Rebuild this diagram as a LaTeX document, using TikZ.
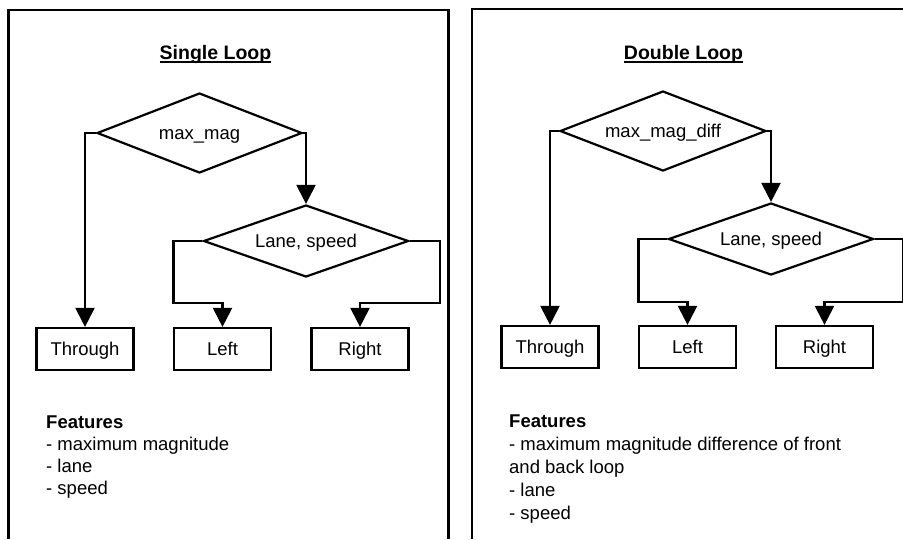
\documentclass[tikz,border=0pt]{standalone}
\usepackage{fontspec}
\setmainfont{Liberation Sans}
\usetikzlibrary{shapes.geometric,arrows.meta}

% underlined heading: the rule sits 3.5pt below the baseline
\newsavebox{\titlebox}
\newcommand{\paneltitle}[1]{\sbox{\titlebox}{#1}%
  \rlap{\rule[-3.5pt]{\wd\titlebox}{1.6pt}}\usebox{\titlebox}}

\tikzset{
  frame/.style={line width=2.2pt},
  labeltext/.style={font=\fontsize{18.5}{22}\selectfont, text height=13.2pt, text depth=0pt},
  decision/.style={diamond, draw, line width=2.2pt, inner sep=0pt,
    shape aspect=2.5, labeltext},
  outcome/.style={rectangle, draw, line width=2.2pt, inner sep=0pt,
    minimum width=97pt, minimum height=42pt, labeltext},
  flow/.style={line width=2.2pt, -{Triangle[length=19pt,width=19pt]}},
  headline/.style={inner sep=0pt, anchor=base, font=\fontsize{19.5}{22}\selectfont\bfseries},
  % the base anchor of a multi-line node is the baseline of its last line
  notes/.style={inner sep=0pt, anchor=base west, align=left},
}

\begin{document}
\begin{tikzpicture}[x=1pt, y=-1pt]
\useasboundingbox (0,0) rectangle (903,539);

% panel frames (open at the bottom)
\draw[frame] (8.5,539) -- (8.5,10) -- (448.5,10) -- (448.5,539);
\draw[frame] (472,539) -- (472,9) -- (903,9);

% ---------- single loop ----------
\node[headline] (t1) at (215.5,59) {\paneltitle{Single Loop}};

\node[decision, minimum width=205pt, minimum height=80pt] (d1) at (199.5,133) {max\_mag};
\node[decision, minimum width=205pt, minimum height=72pt] (d2) at (306,241) {Lane, speed};

\node[outcome] (thr1) at (85,349) {Through};
\node[outcome] (lft1) at (222.5,349) {Left};
\node[outcome] (rgt1) at (360,349) {Right};

\draw[flow] (d1.west) -| (thr1.north);
\draw[flow] (d1.east) -| (d2.north);
\draw[flow] (d2.west) -- ++(-29,0) -- ++(0,62) -| (lft1.north);
\draw[flow] (d2.east) -- ++(30,0) -- ++(0,62) -| (rgt1.north);

\node[notes, font=\fontsize{18.5}{22}\selectfont] (f1) at (46,494)
  {\textbf{Features}\\- maximum magnitude\\- lane\\- speed};

% ---------- double loop ----------
\node[headline] (t2) at (683.5,59) {\paneltitle{Double Loop}};

\node[decision, minimum width=206pt, minimum height=80pt] (d3) at (663,131) {max\_mag\_diff};
\node[decision, minimum width=205pt, minimum height=72pt] (d4) at (771,239) {Lane, speed};

\node[outcome] (thr2) at (550,347) {Through};
\node[outcome] (lft2) at (687.5,347) {Left};
\node[outcome] (rgt2) at (824.5,347) {Right};

\draw[flow] (d3.west) -| (thr2.north);
\draw[flow] (d3.east) -| (d4.north);
\draw[flow] (d4.west) -- ++(-29,0) -- ++(0,63) -| (lft2.north);
\draw[flow] (d4.east) -- ++(28,0) -- ++(0,63) -| (rgt2.north);

\node[notes, font=\fontsize{18.5}{23}\selectfont] (f2) at (509,519)
  {\textbf{Features}\\- maximum magnitude difference of front\\and back loop\\- lane\\- speed};
\end{tikzpicture}
\end{document}
